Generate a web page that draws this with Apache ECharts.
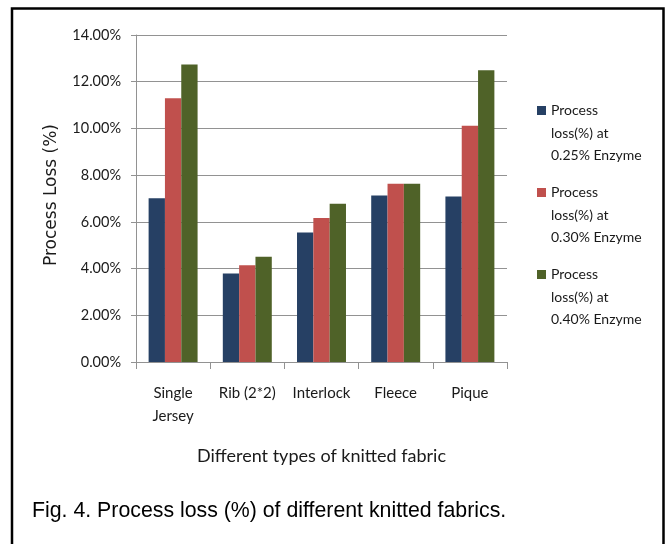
<!DOCTYPE html>
<html>
<head>
<meta charset="utf-8">
<script src="https://cdn.jsdelivr.net/npm/echarts@6/dist/echarts.min.js"></script>
<style>
  html, body { margin: 0; padding: 0; background: #fff; }
  #chart { width: 665px; height: 544px; }
</style>
</head>
<body>
<div id="chart"></div>
<script>
// Fabric types on the x axis
const fabrics = ['Single\nJersey', 'Rib (2*2)', 'Interlock', 'Fleece', 'Pique'];

// Process loss (%) for each enzyme dose
const loss025 = [7.01, 3.79, 5.54, 7.13, 7.09];
const loss030 = [11.29, 4.14, 6.16, 7.63, 10.11];
const loss040 = [12.74, 4.51, 6.77, 7.63, 12.49];

const seriesNames = [
  'Process\nloss(%) at\n0.25% Enzyme',
  'Process\nloss(%) at\n0.30% Enzyme',
  'Process\nloss(%) at\n0.40% Enzyme'
];
const seriesColors = ['#264064', '#C0504D', '#4F6228'];

// Y axis range and tick step (in %)
const yMin = 0, yMax = 14, yStep = 2;

const uiFont = 'Lato, "Open Sans", sans-serif';
const textColor = '#1a1a1a';
const lineColor = '#929292';

const chart = echarts.init(document.getElementById('chart'), null, { renderer: 'canvas' });

const values = [loss025, loss030, loss040];

chart.setOption({
  backgroundColor: '#ffffff',
  animation: false,
  title: {
    text: 'Fig. 4. Process loss (%) of different knitted fabrics.',
    left: 32,
    top: 501,
    padding: 0,
    textStyle: {
      fontFamily: '"Liberation Sans", Arial, sans-serif',
      fontSize: 21.3,
      fontWeight: 'normal',
      color: '#000'
    }
  },
  grid: { left: 136, right: 158, top: 35, bottom: 182, containLabel: false },
  legend: {
    orient: 'vertical',
    left: 532,
    top: 94.5,
    itemWidth: 9,
    itemHeight: 67,
    itemGap: 15,
    selectedMode: false,
    icon: 'path://M0,0h0.01v0.01h-0.01z M0,6.5h9v9h-9z M8.99,66.99h0.01v0.01h-0.01z',
    textStyle: {
      fontFamily: uiFont,
      fontSize: 14,
      lineHeight: 22.3,
      color: textColor
    },
    data: seriesNames
  },
  xAxis: {
    type: 'category',
    data: fabrics,
    name: 'Different types of knitted fabric',
    nameLocation: 'middle',
    nameGap: 85,
    nameTextStyle: { fontFamily: uiFont, fontSize: 18, color: textColor },
    axisLine: { lineStyle: { color: lineColor, width: 1 } },
    axisTick: { show: true, length: 7, lineStyle: { color: lineColor } },
    axisLabel: {
      interval: 0,
      margin: 20,
      fontFamily: uiFont,
      fontSize: 15,
      lineHeight: 23,
      color: textColor
    },
    splitLine: { show: false }
  },
  yAxis: {
    type: 'value',
    min: yMin,
    max: yMax,
    interval: yStep,
    name: 'Process Loss (%)',
    nameLocation: 'middle',
    nameGap: 76,
    nameRotate: 90,
    nameTextStyle: {
      fontFamily: '"DejaVu Sans", Verdana, sans-serif',
      fontSize: 17,
      color: textColor,
      padding: [0, 0, 0, 7]
    },
    axisLine: { show: true, lineStyle: { color: lineColor, width: 1 } },
    axisTick: { show: true, length: 5, lineStyle: { color: lineColor } },
    axisLabel: {
      margin: 15,
      fontFamily: uiFont,
      fontSize: 14.5,
      color: textColor,
      formatter: v => v.toFixed(2) + '%'
    },
    splitLine: { show: true, lineStyle: { color: lineColor, width: 1 } }
  },
  series: values.map((arr, i) => ({
    name: seriesNames[i],
    type: 'bar',
    data: arr,
    barGap: '0%',
    barCategoryGap: '34%',
    itemStyle: { color: seriesColors[i] }
  })),
  graphic: [{
    type: 'rect',
    silent: true,
    shape: { x: 12, y: 8.5, width: 651.5, height: 600 },
    style: { fill: 'none', stroke: '#000', lineWidth: 2.5 }
  }]
});
</script>
</body>
</html>
